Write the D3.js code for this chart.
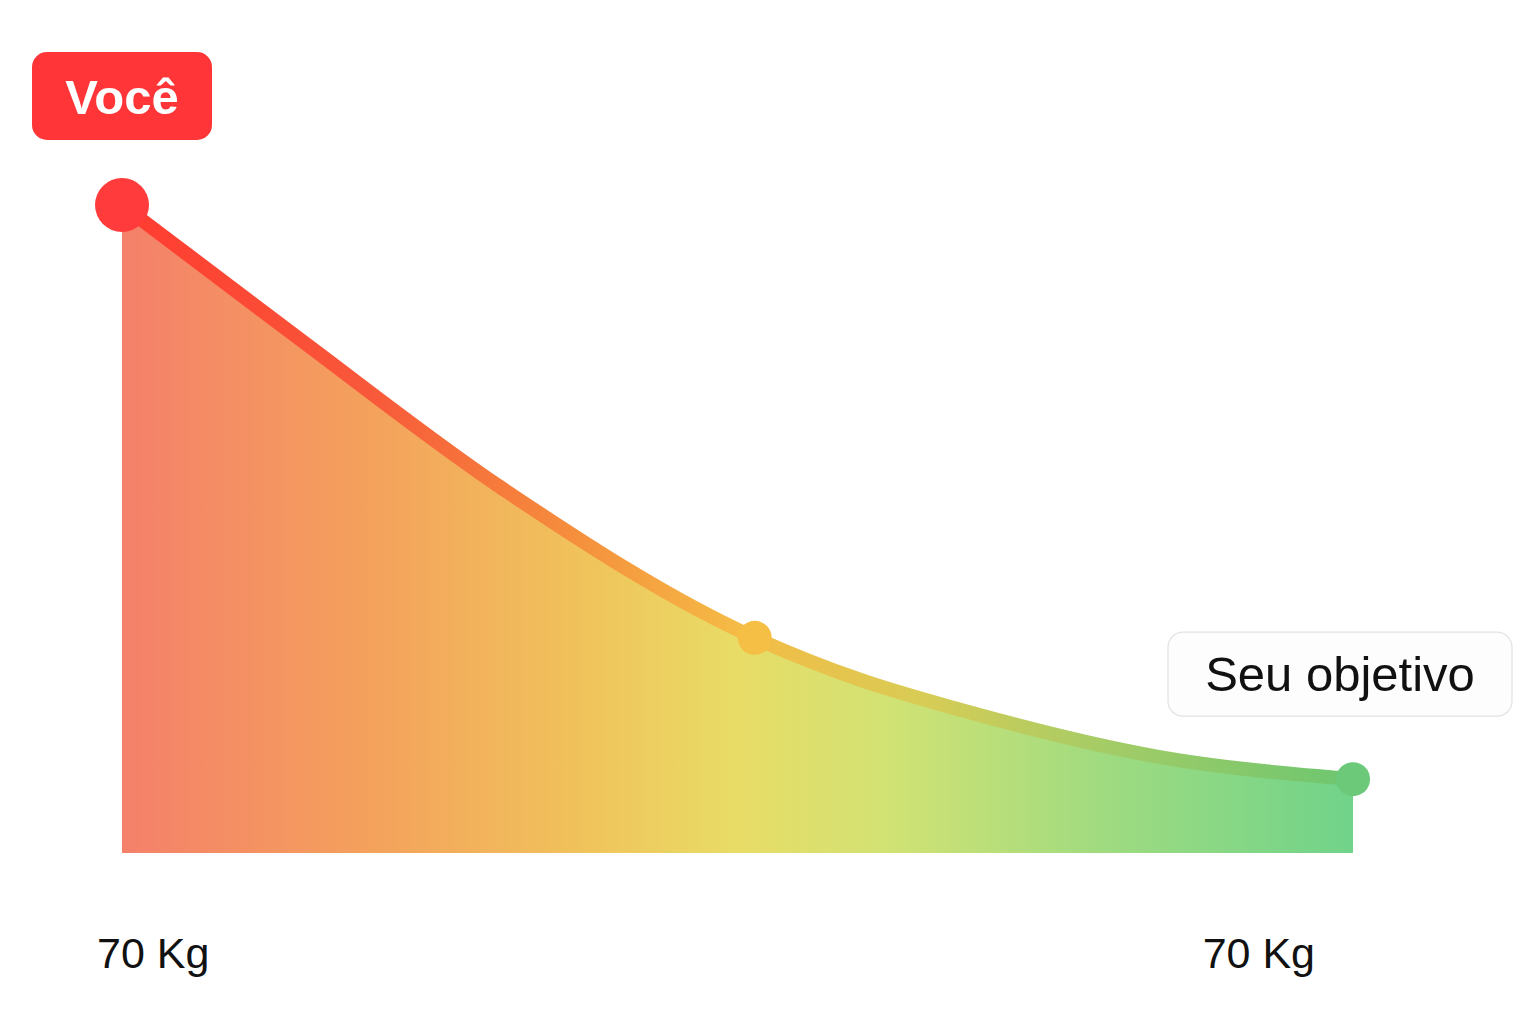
<!DOCTYPE html>
<html>
<head>
<meta charset="utf-8">
<script src="https://cdn.jsdelivr.net/npm/d3@7"></script>
<style>
	html, body { margin: 0; padding: 0; background: #fff; }
	svg { display: block; }
</style>
</head>
<body>
<svg id="chart" width="1536" height="1024"></svg>
<script>
// progress along the plan (0 = hoje, 100 = objetivo)
const progress = [0, 14.5, 30.7, 51.4, 60.0, 68.1, 84.3, 100]
// relative level of the curve
const level = [100, 79.2, 56.5, 33.2, 26.7, 22.1, 14.8, 11.4]
// which points get a marker
const markerIndex = [0, 3, 7]
const startLabel = 'Você'
const goalLabel = 'Seu objetivo'
const weightLabels = ['70 Kg', '70 Kg']

const plot = { left: 122, right: 1353, top: 205, bottom: 853 }

const svg = d3.select('#chart')
const defs = svg.append('defs')

const x = d3.scaleLinear().domain([0, 100]).range([plot.left, plot.right])
const y = d3.scaleLinear().domain([0, 100]).range([plot.bottom, plot.top])

const data = progress.map((p, i) => ({ p, v: level[i] }))

// horizontal gradients for fill and line
const fillGrad = defs.append('linearGradient')
	.attr('id', 'fillGrad')
	.attr('gradientUnits', 'userSpaceOnUse')
	.attr('x1', plot.left).attr('x2', plot.right)
	.attr('y1', 0).attr('y2', 0)
const fillStops = [
	[0, '#f4806a'],
	[0.2, '#f4a15c'],
	[0.38, '#f0c45b'],
	[0.5, '#e8dc66'],
	[0.62, '#d2e273'],
	[0.8, '#9fdb80'],
	[1, '#70d38a']
]
fillStops.forEach(s => fillGrad.append('stop').attr('offset', s[0]).attr('stop-color', s[1]))

const lineGrad = defs.append('linearGradient')
	.attr('id', 'lineGrad')
	.attr('gradientUnits', 'userSpaceOnUse')
	.attr('x1', plot.left).attr('x2', plot.right)
	.attr('y1', 0).attr('y2', 0)
const lineStops = [
	[0, '#ff3b30'],
	[0.2, '#f8583a'],
	[0.35, '#f5893c'],
	[0.5, '#f5bb45'],
	[0.65, '#d8cc55'],
	[0.8, '#a4cc66'],
	[1, '#6cc670']
]
lineStops.forEach(s => lineGrad.append('stop').attr('offset', s[0]).attr('stop-color', s[1]))

const curve = d3.curveMonotoneX

const area = d3.area()
	.x(d => x(d.p))
	.y0(y(0))
	.y1(d => y(d.v))
	.curve(curve)

const line = d3.line()
	.x(d => x(d.p))
	.y(d => y(d.v))
	.curve(curve)

svg.append('path')
	.datum(data)
	.attr('d', area)
	.attr('fill', 'url(#fillGrad)')

svg.append('path')
	.datum(data)
	.attr('d', line)
	.attr('fill', 'none')
	.attr('stroke', 'url(#lineGrad)')
	.attr('stroke-width', 14)
	.attr('stroke-linecap', 'round')

const markerColors = ['#ff3b3b', '#f5bf45', '#6cc97a']
const markerRadius = [27, 17, 17]

svg.selectAll('circle.marker')
	.data(markerIndex)
	.join('circle')
	.attr('class', 'marker')
	.attr('cx', i => x(data[i].p))
	.attr('cy', i => y(data[i].v))
	.attr('r', (i, k) => markerRadius[k])
	.attr('fill', (i, k) => markerColors[k])

// "Você" badge above the starting point
const start = data[markerIndex[0]]
const you = svg.append('g')
	.attr('transform', `translate(${x(start.p)},${y(start.v) - 109})`)
you.append('rect')
	.attr('x', -90).attr('y', -44)
	.attr('width', 180).attr('height', 88)
	.attr('rx', 15)
	.attr('fill', '#ff3538')
you.append('text')
	.attr('text-anchor', 'middle')
	.attr('y', 18)
	.attr('font-family', '"Liberation Sans", Arial, sans-serif')
	.attr('font-weight', 'bold')
	.attr('font-size', 49)
	.attr('fill', '#fff')
	.text(startLabel)

// "Seu objetivo" badge above the goal point
const goal = data[markerIndex[2]]
const target = svg.append('g')
	.attr('transform', `translate(${x(goal.p) - 13},${y(goal.v) - 105})`)
target.append('rect')
	.attr('x', -172).attr('y', -42)
	.attr('width', 344).attr('height', 84)
	.attr('rx', 15)
	.attr('fill', '#fdfdfd')
	.attr('stroke', '#e2e2e2')
	.attr('stroke-width', 1.2)
target.append('text')
	.attr('text-anchor', 'middle')
	.attr('y', 17)
	.attr('font-family', '"Liberation Sans", Arial, sans-serif')
	.attr('font-size', 49)
	.attr('fill', '#111')
	.text(goalLabel)

// weight labels under the ends
svg.selectAll('text.weight')
	.data(weightLabels)
	.join('text')
	.attr('class', 'weight')
	.attr('x', (d, i) => (i === 0 ? x(0) - 25 : x(100) - 38))
	.attr('y', 968)
	.attr('text-anchor', (d, i) => (i === 0 ? 'start' : 'end'))
	.attr('font-family', '"Liberation Sans", Arial, sans-serif')
	.attr('font-size', 43)
	.attr('fill', '#111')
	.text(d => d)
</script>
</body>
</html>
